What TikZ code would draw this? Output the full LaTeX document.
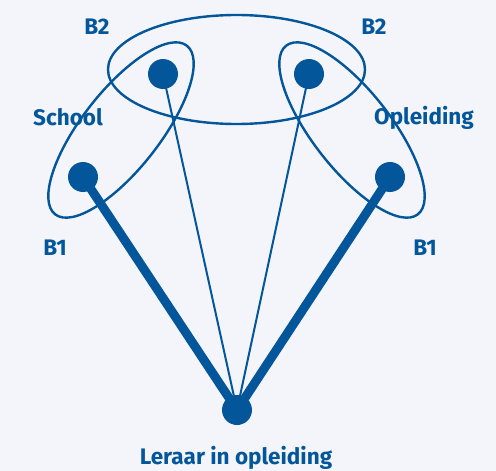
\documentclass[tikz,border=0pt]{standalone}
\usepackage{fontspec}
\setmainfont{Fira Sans}
\definecolor{dblue}{HTML}{04569A}
\definecolor{bg}{HTML}{F4F5FA}
\begin{document}
\begin{tikzpicture}[x=1pt,y=-1pt,
  dot/.style={circle,fill=dblue,inner sep=0pt,minimum size=30pt},
  lbl/.style={text=dblue,font=\bfseries\fontsize{22.5}{26}\selectfont,inner sep=0pt},
  ring/.style={draw=dblue,line width=2.4pt},
  thin/.style={draw=dblue,line width=2pt},
  thick/.style={draw=dblue,line width=9pt}]
\fill[bg] (0,0) rectangle (496,471);
\useasboundingbox (0,0) rectangle (496,471);
\node[dot] (sb1) at (83,177) {};
\node[dot] (sb2) at (163,74) {};
\node[dot] (ob2) at (309,74) {};
\node[dot] (ob1) at (390,177) {};
\node[dot] (lr) at (237,410) {};
\draw[ring] (236.5,69.5) ellipse [x radius=128.5, y radius=54.5];
\draw[ring] (121,130) ellipse [x radius=107, y radius=39, rotate=52];
\draw[ring] (352,130) ellipse [x radius=107, y radius=39, rotate=-52];
\draw[thick] (sb1.center) -- (lr.center);
\draw[thick] (ob1.center) -- (lr.center);
\draw[thin] (sb2.center) -- (lr.center);
\draw[thin] (ob2.center) -- (lr.center);
\node[lbl] (tb2l) at (97,27) {B2};
\node[lbl] (tb2r) at (374,27) {B2};
\node[lbl] (tsch) at (68,117) {School};
\node[lbl] (topl) at (424,118) {Opleiding};
\node[lbl] (tb1l) at (55,248) {B1};
\node[lbl] (tb1r) at (425,248) {B1};
\node[lbl] (tler) at (236,458) {Leraar in opleiding};
\end{tikzpicture}
\end{document}
